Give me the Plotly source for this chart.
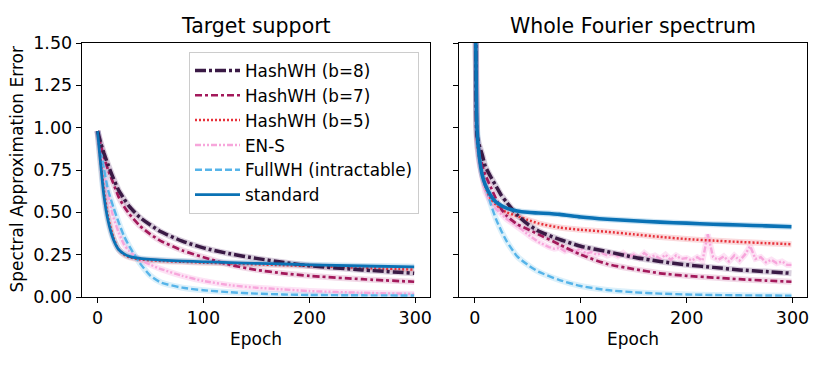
import plotly.graph_objects as go

epochs_left = [0, 3, 6, 10, 15, 20, 25, 30, 40, 50, 60, 80, 100, 125, 150, 175, 200, 250, 299]

b8_left = [0.98, 0.91, 0.85, 0.78, 0.70, 0.63, 0.58, 0.535, 0.47, 0.425, 0.385, 0.33, 0.29, 0.255, 0.228, 0.205, 0.185, 0.16, 0.14]
b7_left = [0.98, 0.90, 0.83, 0.75, 0.67, 0.59, 0.535, 0.49, 0.42, 0.37, 0.33, 0.275, 0.235, 0.19, 0.16, 0.14, 0.125, 0.105, 0.09]
b5_left = [0.98, 0.80, 0.63, 0.47, 0.35, 0.28, 0.25, 0.235, 0.222, 0.217, 0.213, 0.208, 0.203, 0.198, 0.193, 0.188, 0.183, 0.172, 0.162]
ens_left = [0.98, 0.86, 0.74, 0.60, 0.47, 0.38, 0.31, 0.27, 0.22, 0.19, 0.165, 0.125, 0.095, 0.07, 0.055, 0.045, 0.035, 0.025, 0.018]
full_left = [0.98, 0.87, 0.76, 0.63, 0.53, 0.44, 0.36, 0.30, 0.20, 0.125, 0.085, 0.055, 0.04, 0.028, 0.02, 0.015, 0.012, 0.01, 0.009]
std_left = [0.98, 0.78, 0.60, 0.45, 0.34, 0.28, 0.255, 0.24, 0.228, 0.222, 0.218, 0.212, 0.208, 0.203, 0.198, 0.195, 0.19, 0.183, 0.178]

epochs_right = [0, 1, 2, 4, 7, 10, 15, 20, 25, 30, 40, 50, 60, 80, 100, 125, 150, 175, 200, 225, 250, 275, 299]

b8_right = [2.4, 1.4, 0.96, 0.90, 0.84, 0.77, 0.71, 0.655, 0.60, 0.56, 0.485, 0.43, 0.39, 0.34, 0.30, 0.268, 0.235, 0.21, 0.19, 0.175, 0.16, 0.15, 0.14]
b7_right = [2.4, 1.4, 0.95, 0.87, 0.78, 0.72, 0.65, 0.58, 0.52, 0.48, 0.43, 0.40, 0.37, 0.31, 0.25, 0.195, 0.165, 0.14, 0.125, 0.115, 0.105, 0.097, 0.09]
b5_right = [2.4, 1.4, 0.93, 0.82, 0.72, 0.65, 0.58, 0.545, 0.52, 0.50, 0.478, 0.455, 0.435, 0.41, 0.397, 0.385, 0.37, 0.355, 0.342, 0.333, 0.325, 0.318, 0.312]
full_right = [2.4, 1.35, 0.92, 0.82, 0.72, 0.66, 0.55, 0.46, 0.39, 0.33, 0.24, 0.19, 0.15, 0.10, 0.065, 0.041, 0.028, 0.02, 0.015, 0.012, 0.01, 0.009, 0.008]
std_right = [2.4, 1.45, 1.0, 0.84, 0.72, 0.66, 0.60, 0.56, 0.54, 0.525, 0.508, 0.50, 0.496, 0.488, 0.472, 0.459, 0.45, 0.442, 0.436, 0.43, 0.425, 0.42, 0.415]

ens_epochs_right = [0, 1, 2, 4, 7, 10, 15, 20, 25, 30, 35, 40, 45,
                    50, 55, 60, 65, 70, 75, 80, 85, 90, 95, 100, 105, 110, 115, 120, 125,
                    130, 135, 140, 145, 150, 155, 160, 165, 170, 175, 180, 185, 190, 195,
                    200, 205, 210, 215, 220, 225, 230, 235, 240, 245, 250, 255, 260, 265,
                    270, 275, 280, 285, 290, 295, 299]
ens_right = [2.4, 1.4, 0.93, 0.80, 0.70, 0.62, 0.56, 0.52, 0.49, 0.46, 0.44, 0.42, 0.395,
             0.37, 0.345, 0.325, 0.31, 0.295, 0.285, 0.29, 0.27, 0.28, 0.265, 0.29, 0.255, 0.265, 0.25, 0.26, 0.245,
             0.255, 0.24, 0.26, 0.235, 0.25, 0.23, 0.26, 0.235, 0.245, 0.225, 0.25, 0.22, 0.245, 0.225,
             0.23, 0.215, 0.235, 0.215, 0.37, 0.235, 0.22, 0.24, 0.21, 0.245, 0.215, 0.25, 0.30, 0.225,
             0.235, 0.205, 0.22, 0.20, 0.21, 0.19, 0.19]

x_ticks = [0, 100, 200, 300]
y_ticks = [0, 0.25, 0.5, 0.75, 1.0, 1.25, 1.5]

styles = {
    "HashWH (b=8)": dict(color="#3a1a45", halo="rgba(160,135,170,0.4)", dash="11px,3px,3px,3px", width=3.5),
    "HashWH (b=7)": dict(color="#a3195b", halo="rgba(210,130,175,0.3)", dash="7px,3px,3px,3px", width=2.7),
    "HashWH (b=5)": dict(color="#e8313a", halo="rgba(240,130,140,0.3)", dash="2px,2px", width=2.5),
    "EN-S": dict(color="#f7a6db", halo="rgba(250,175,225,0.35)", dash="6px,2px,2px,2px,2px,2px", width=2.4),
    "FullWH (intractable)": dict(color="#56b4e9", halo="rgba(140,205,240,0.3)", dash="7px,3px", width=2.4),
    "standard": dict(color="#0a72b5", halo="rgba(90,165,215,0.3)", dash="solid", width=2.8),
}
rank = {"HashWH (b=8)": 1, "HashWH (b=7)": 2, "HashWH (b=5)": 3, "EN-S": 4, "FullWH (intractable)": 5, "standard": 6}

left = {"EN-S": (epochs_left, ens_left), "FullWH (intractable)": (epochs_left, full_left),
        "HashWH (b=5)": (epochs_left, b5_left), "HashWH (b=7)": (epochs_left, b7_left),
        "HashWH (b=8)": (epochs_left, b8_left), "standard": (epochs_left, std_left)}
right = {"EN-S": (ens_epochs_right, ens_right), "FullWH (intractable)": (epochs_right, full_right),
         "HashWH (b=5)": (epochs_right, b5_right), "HashWH (b=7)": (epochs_right, b7_right),
         "HashWH (b=8)": (epochs_right, b8_right), "standard": (epochs_right, std_right)}

fig = go.Figure()

for panel, xa, ya in [(left, "x", "y"), (right, "x2", "y2")]:
    # light bands first
    for name, (ex, vals) in panel.items():
        s = styles[name]
        shape = "linear" if (name == "EN-S" and xa == "x2") else "spline"
        fig.add_trace(go.Scatter(x=ex, y=vals, mode="lines", xaxis=xa, yaxis=ya, showlegend=False,
                                 hoverinfo="skip",
                                 line=dict(color=s["halo"], width=6, shape=shape, smoothing=0.6)))
    for name, (ex, vals) in panel.items():
        s = styles[name]
        shape = "linear" if (name == "EN-S" and xa == "x2") else "spline"
        w = s["width"] + (0.8 if (name == "standard" and xa == "x2") else 0)
        fig.add_trace(go.Scatter(x=ex, y=vals, mode="lines", name=name, xaxis=xa, yaxis=ya,
                                 showlegend=(xa == "x"), legendrank=rank[name],
                                 line=dict(color=s["color"], width=w, dash=s["dash"],
                                           shape=shape, smoothing=0.6)))

ax = dict(showline=True, linecolor="black", linewidth=1, mirror=True, ticks="outside",
          ticklen=5, tickcolor="black", showgrid=False, zeroline=False, automargin=False,
          tickfont=dict(size=17.5))

# the page puts the figure 8px right and down, so positions below are shifted back by 8px
W, H = 830, 369


def px_x(p):
    return (p - 8) / W


def px_y(p):
    return 1 - (p - 8) / H


fig.update_layout(
    template="none",
    width=W, height=H,
    margin=dict(l=0, r=0, t=0, b=0, pad=0),
    paper_bgcolor="white", plot_bgcolor="white",
    font=dict(family="DejaVu Sans", size=17, color="black"),
    xaxis=dict(ax, domain=[px_x(81.7), px_x(430)], range=[-14.95, 313.95], tickvals=x_ticks, anchor="y"),
    yaxis=dict(ax, domain=[px_y(297), px_y(43)], range=[0, 1.5], tickvals=y_ticks, tickformat=".2f", anchor="x"),
    xaxis2=dict(ax, domain=[px_x(459), px_x(807.3)], range=[-14.95, 313.95], tickvals=x_ticks, anchor="y2"),
    yaxis2=dict(ax, domain=[px_y(297), px_y(43)], range=[0, 1.5], tickvals=y_ticks, showticklabels=False, anchor="x2"),
    legend=dict(x=px_x(189), y=px_y(52), xanchor="left", yanchor="top", bgcolor="rgba(255,255,255,0.85)",
                bordercolor="#cccccc", borderwidth=1, font=dict(size=16.8), traceorder="normal",
                itemwidth=45),
    annotations=[
        dict(text="Target support", x=px_x(256), y=px_y(26), xref="paper", yref="paper", showarrow=False,
             font=dict(size=20.5), xanchor="center", yanchor="middle"),
        dict(text="Whole Fourier spectrum", x=px_x(633), y=px_y(26), xref="paper", yref="paper", showarrow=False,
             font=dict(size=20.5), xanchor="center", yanchor="middle"),
        dict(text="Epoch", x=px_x(256), y=px_y(339), xref="paper", yref="paper", showarrow=False,
             xanchor="center", yanchor="middle"),
        dict(text="Epoch", x=px_x(633), y=px_y(339), xref="paper", yref="paper", showarrow=False,
             xanchor="center", yanchor="middle"),
        dict(text="Spectral Approximation Error", x=px_x(16.5), y=px_y(170), xref="paper", yref="paper",
             showarrow=False, textangle=-90, xanchor="center", yanchor="middle"),
    ],
)

fig.write_html("out.html")
